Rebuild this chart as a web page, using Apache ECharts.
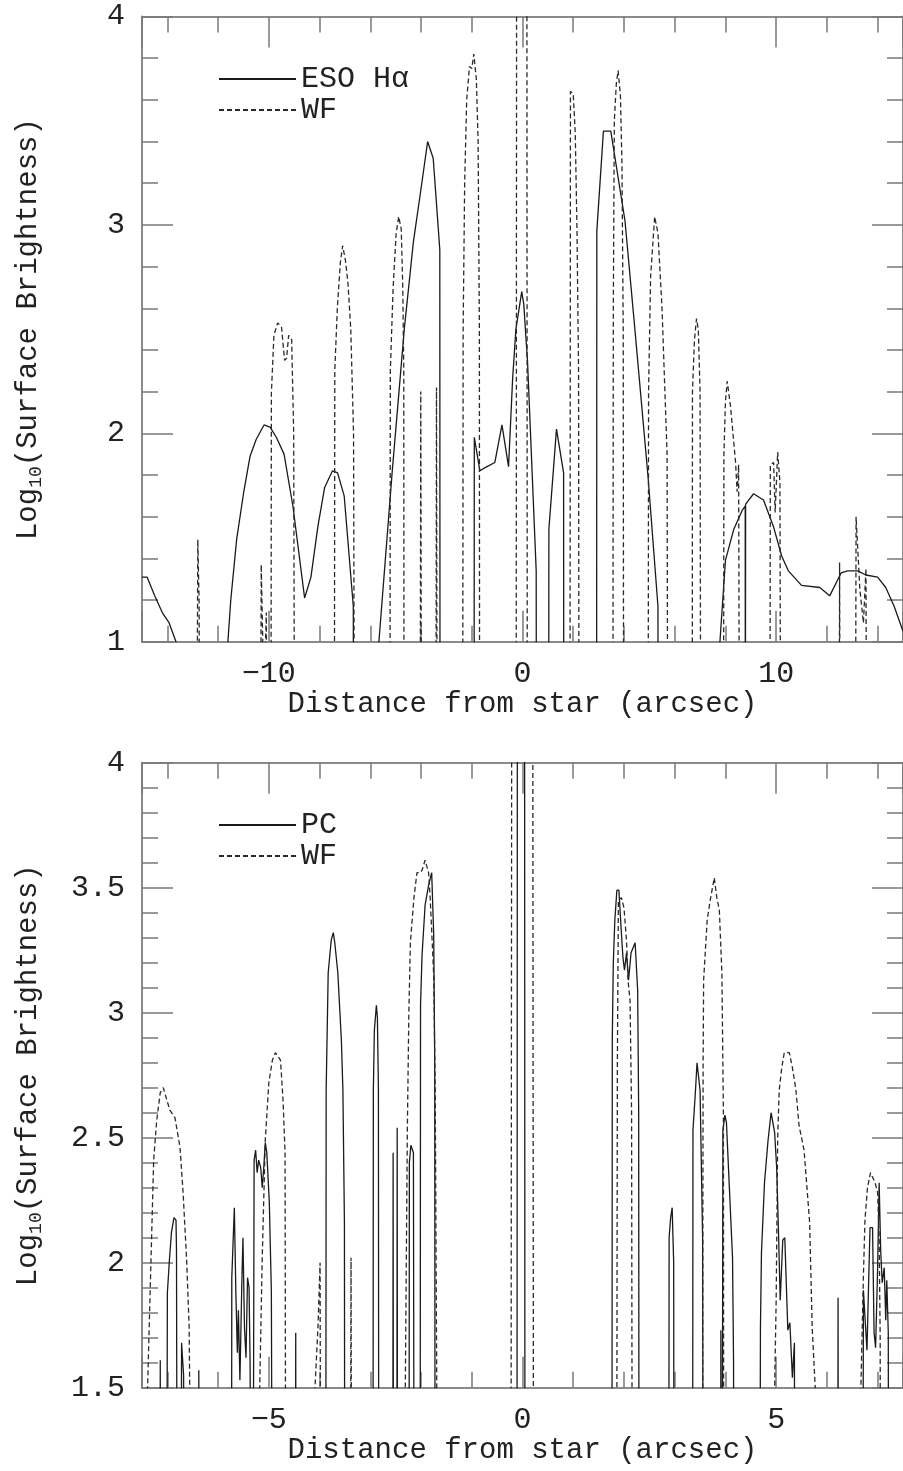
<!DOCTYPE html>
<html><head><meta charset="utf-8">
<script src="https://cdn.jsdelivr.net/npm/echarts@6/dist/echarts.min.js"></script>
<style>html,body{margin:0;padding:0;background:#fff}#c{width:903px;height:1471px}</style>
</head><body><div id="c"></div>
<script>
// ---------- axis ranges / ticks ----------
const topXRange = [-15, 15];
const topYRange = [1, 4];
const topYInterval = 1;
const botXRange = [-7.5, 7.5];
const botYRange = [1.5, 4];
const botYInterval = 0.5;

// ---------- legend names ----------
const topSeriesNames = ['ESO Hα', 'WF'];
const botSeriesNames = ['PC', 'WF'];

// ---------- top panel: ESO H-alpha (solid) ----------
const esoHa = [
[-15,1.31],[-14.8,1.31],[-14.5,1.22],[-14.2,1.14],[-13.93,1.09],[-13.66,1.0],[-13.5,0.9],[-11.7,0.85],
[-11.5,1.2],[-11.27,1.49],[-11.0,1.71],[-10.74,1.89],[-10.5,1.97],[-10.19,2.04],[-9.95,2.03],[-9.7,1.98],
[-9.4,1.90],[-9.05,1.65],[-8.59,1.21],[-8.34,1.31],[-8.07,1.55],[-7.8,1.74],[-7.49,1.82],[-7.29,1.81],
[-7.03,1.70],[-6.67,1.17],[-6.66,0],[-5.8,0],[-5.68,0.97],[-5.14,1.81],[-4.66,2.50],[-4.30,2.92],
[-4.04,3.14],[-3.74,3.40],[-3.52,3.32],[-3.26,2.88],[-3.25,0],[-1.91,0],[-1.90,1.98],[-1.68,1.82],
[-1.4,1.84],[-1.09,1.86],[-0.81,2.04],[-0.55,1.84],[-0.39,2.26],[-0.26,2.5],[-0.03,2.68],[0.05,2.62],
[0.2,2.34],[0.35,1.9],[0.54,1.34],[0.55,0],[1.03,0],[1.04,1.54],[1.34,2.02],[1.62,1.81],[1.63,0],
[2.92,0],[2.93,2.97],[3.19,3.45],[3.48,3.45],[4.04,3.02],[4.43,2.5],[4.95,1.79],[5.34,1.17],[5.35,0],
[7.7,0.85],[8.0,1.39],[8.33,1.54],[8.66,1.63],[8.78,1.65],[8.785,0],[8.795,1.66],[9.11,1.71],[9.5,1.68],
[9.9,1.55],[10.22,1.41],[10.48,1.34],[11.0,1.27],[11.72,1.26],[12.11,1.22],[12.56,1.33],[12.82,1.34],
[13.21,1.34],[13.54,1.32],[14.0,1.31],[14.32,1.26],[14.65,1.17],[15,1.05]
];

// ---------- top panel: WF (dashed) ----------
const wfTop = [
[-15,0],[-12.85,0],[-12.8,1.49],[-12.75,1.2],[-12.72,0],
[-10.33,0],[-10.3,1.37],[-10.24,1.0],[-10.15,0.9],[-10.1,1.14],[-10.05,0],
[-9.92,0],[-9.9,2.19],[-9.8,2.47],[-9.65,2.53],[-9.5,2.51],[-9.38,2.35],[-9.3,2.36],[-9.22,2.47],[-9.1,2.45],[-9.02,2.0],[-8.98,0],
[-7.42,0],[-7.4,2.3],[-7.3,2.6],[-7.18,2.82],[-7.09,2.90],[-6.98,2.83],[-6.88,2.72],[-6.77,2.5],[-6.66,2.0],[-6.62,0],
[-5.23,0],[-5.21,2.3],[-5.1,2.7],[-4.98,2.96],[-4.88,3.04],[-4.78,2.98],[-4.72,2.7],[-4.68,2.3],[-4.67,0],
[-4.04,0],[-4.01,2.2],[-3.98,0],
[-3.42,0],[-3.39,2.22],[-3.36,0],
[-2.36,0],[-2.34,2.5],[-2.28,3.2],[-2.2,3.6],[-2.09,3.76],[-2.0,3.75],[-1.92,3.82],[-1.82,3.7],[-1.75,3.4],[-1.7,2.5],[-1.69,0],
[-0.25,0],[-0.23,5],[0.17,5],[0.19,0],
[1.87,0],[1.89,3.64],[2.0,3.63],[2.08,3.44],[2.15,2.96],[2.21,2.3],[2.23,0],
[3.56,0],[3.58,2.6],[3.62,3.5],[3.7,3.68],[3.77,3.74],[3.86,3.62],[3.92,3.3],[3.97,2.5],[3.99,0],
[4.95,0],[4.97,2.2],[5.05,2.75],[5.21,3.04],[5.34,2.96],[5.5,2.6],[5.7,1.9],[5.73,0],
[6.69,0],[6.7,2.2],[6.78,2.45],[6.86,2.55],[6.93,2.5],[7.0,2.2],[7.03,0],
[7.92,0],[7.94,1.9],[8.0,2.15],[8.07,2.25],[8.2,2.13],[8.4,1.86],[8.46,1.72],[8.52,1.85],[8.56,0],
[9.75,0],[9.77,1.85],[9.9,1.86],[9.96,1.62],[10.06,1.91],[10.15,1.76],[10.18,0],
[12.48,0],[12.5,1.38],[12.53,0],
[13.12,0],[13.15,1.6],[13.3,1.25],[13.44,1.09],[13.54,1.35],[13.57,0],[15,0]
];

// ---------- bottom panel: PC (solid) ----------
const pc = [
[-7.5,0],[-7.15,0],[-7.14,1.61],[-7.13,0],
[-7.02,0],[-7.0,1.88],[-6.96,2.01],[-6.92,2.12],[-6.87,2.18],[-6.83,2.17],[-6.82,2.05],[-6.8,0],
[-6.74,0],[-6.72,1.68],[-6.68,1.55],[-6.66,0],
[-6.39,0],[-6.38,1.57],[-6.37,0],
[-5.74,0],[-5.73,1.94],[-5.68,2.22],[-5.65,1.88],[-5.62,1.64],[-5.6,1.81],[-5.57,1.53],[-5.53,1.94],[-5.51,2.1],[-5.48,1.74],[-5.45,1.62],[-5.42,1.94],[-5.39,1.9],[-5.37,1.61],[-5.32,0],
[-5.3,0],[-5.29,2.41],[-5.26,2.45],[-5.23,2.36],[-5.2,2.41],[-5.16,2.38],[-5.13,2.3],[-5.1,2.38],[-5.07,2.48],[-5.04,2.44],[-4.99,2.24],[-4.95,1.88],[-4.92,0],
[-4.48,0],[-4.47,1.72],[-4.46,0],
[-3.88,0],[-3.87,2.69],[-3.83,3.16],[-3.77,3.29],[-3.73,3.32],[-3.7,3.28],[-3.64,3.16],[-3.57,2.89],[-3.54,2.69],[-3.51,2.16],[-3.5,0],
[-2.95,0],[-2.94,2.69],[-2.92,2.93],[-2.88,3.03],[-2.86,2.98],[-2.84,2.69],[-2.83,0],
[-2.56,0],[-2.55,2.44],[-2.54,0],
[-2.48,0],[-2.47,2.54],[-2.46,0],
[-2.24,0],[-2.23,2.4],[-2.2,2.47],[-2.15,2.44],[-2.13,0],
[-2.02,0],[-2.01,3.03],[-1.98,3.23],[-1.92,3.43],[-1.85,3.51],[-1.79,3.56],[-1.75,3.31],[-1.73,2.8],[-1.72,0],
[-0.11,0],[-0.1,5],[0.04,5],[0.05,0],
[1.76,0],[1.77,2.9],[1.79,3.2],[1.82,3.37],[1.86,3.49],[1.9,3.49],[1.94,3.35],[1.98,3.22],[2.01,3.17],[2.05,3.24],[2.09,3.13],[2.14,3.24],[2.22,3.28],[2.27,3.09],[2.29,2.6],[2.3,0],
[2.88,0],[2.89,2.1],[2.92,2.18],[2.95,2.22],[2.98,2.0],[2.99,0],
[3.35,0],[3.36,2.53],[3.41,2.69],[3.44,2.8],[3.5,2.69],[3.55,2.1],[3.57,0],
[3.9,0],[3.91,1.73],[3.93,0],
[3.94,0],[3.95,2.53],[3.99,2.59],[4.02,2.56],[4.08,2.29],[4.14,2.02],[4.16,1.6],[4.17,0],
[4.67,0],[4.69,1.74],[4.71,2.04],[4.77,2.32],[4.84,2.49],[4.9,2.6],[4.97,2.52],[5.01,2.38],[5.05,2.09],[5.08,1.85],[5.13,2.09],[5.17,2.1],[5.23,1.73],[5.27,1.76],[5.32,1.54],[5.36,1.68],[5.37,0],
[6.21,0],[6.22,1.86],[6.23,0],
[6.7,0],[6.72,1.89],[6.76,1.75],[6.79,1.65],[6.82,1.9],[6.85,2.14],[6.9,2.14],[6.93,1.72],[6.96,1.66],[7.0,1.98],[7.03,2.32],[7.06,2.05],[7.09,1.92],[7.13,1.98],[7.16,1.77],[7.18,1.93],[7.21,1.72],[7.22,0],[7.5,0]
];

// ---------- bottom panel: WF (dashed) ----------
const wfBot = [
[-7.5,0],[-7.41,0],[-7.39,1.5],[-7.34,1.88],[-7.27,2.41],[-7.21,2.57],[-7.14,2.68],[-7.08,2.70],[-7.01,2.65],[-6.95,2.61],[-6.85,2.58],[-6.75,2.46],[-6.69,2.28],[-6.62,2.01],[-6.57,1.74],[-6.56,1.5],[-6.55,0],
[-5.2,0],[-5.18,1.5],[-5.13,2.02],[-5.07,2.49],[-5.0,2.72],[-4.93,2.81],[-4.87,2.84],[-4.77,2.81],[-4.72,2.65],[-4.68,2.44],[-4.66,0],
[-4.12,0],[-4.09,1.5],[-4.03,1.75],[-3.99,2.0],[-3.97,0],
[-3.4,0],[-3.38,2.02],[-3.36,0],
[-2.33,0],[-2.31,1.5],[-2.27,2.53],[-2.24,3.0],[-2.21,3.28],[-2.14,3.46],[-2.08,3.56],[-2.01,3.56],[-1.98,3.57],[-1.92,3.61],[-1.85,3.56],[-1.82,3.46],[-1.75,3.15],[-1.72,2.68],[-1.69,1.5],[-1.68,0],
[-0.23,0],[-0.21,5],[0.2,5],[0.22,0],
[1.85,0],[1.87,2.8],[1.89,3.45],[1.95,3.46],[2.0,3.42],[2.05,3.29],[2.08,3.13],[2.12,3.05],[2.15,2.6],[2.17,0],
[3.54,0],[3.56,2.8],[3.57,3.13],[3.64,3.37],[3.7,3.45],[3.78,3.54],[3.83,3.46],[3.88,3.41],[3.93,3.16],[3.96,2.6],[3.97,0],
[4.95,0],[4.97,1.5],[5.0,1.85],[5.03,2.5],[5.06,2.69],[5.11,2.78],[5.16,2.84],[5.26,2.84],[5.32,2.78],[5.39,2.69],[5.45,2.55],[5.55,2.45],[5.66,2.16],[5.71,1.74],[5.77,1.5],[5.78,0],
[6.65,0],[6.67,1.5],[6.72,1.95],[6.75,2.17],[6.8,2.3],[6.86,2.36],[6.95,2.32],[7.0,2.28],[7.03,2.1],[7.05,1.7],[7.06,0],[7.5,0]
];

// ---------- styling ----------
const FONT = 'Liberation Mono';
const TXT = '#222';
const frame = {color: '#8a8a8a', width: 2};
const tickStyle = {color: '#7a7a7a', width: 1.5};
const minus = v => (v < 0 ? '\u2212' + Math.abs(v) : String(v));

function xAxisPair(grid, rng) {
  const base = {
    type: 'value', gridIndex: grid, min: rng[0], max: rng[1], splitNumber: 3,
    axisLine: {show: true, onZero: false, lineStyle: frame},
    axisTick: {show: true, inside: true, length: 31, lineStyle: tickStyle},
    minorTick: {show: true, splitNumber: 5, length: 16, lineStyle: tickStyle},
    splitLine: {show: false}, minorSplitLine: {show: false}
  };
  return [
    Object.assign({}, base, {
      position: 'bottom',
      axisLabel: {show: true, margin: 17, fontFamily: FONT, fontSize: 30, color: TXT,
        showMinLabel: false, showMaxLabel: false, formatter: minus},
      name: 'Distance from star (arcsec)', nameLocation: 'middle', nameGap: 47,
      nameTextStyle: {fontFamily: FONT, fontSize: 29, color: TXT}
    }),
    Object.assign({}, base, {position: 'top', axisLabel: {show: false}})
  ];
}
function yAxisPair(grid, rng, interval) {
  const base = {
    type: 'value', gridIndex: grid, min: rng[0], max: rng[1], interval: interval,
    axisLine: {show: true, onZero: false, lineStyle: frame},
    axisTick: {show: true, inside: true, length: 31, lineStyle: tickStyle},
    minorTick: {show: true, splitNumber: 5, length: 16, lineStyle: tickStyle},
    splitLine: {show: false}, minorSplitLine: {show: false}
  };
  return [
    Object.assign({}, base, {
      position: 'left',
      axisLabel: {show: true, margin: 17, fontFamily: FONT, fontSize: 30, color: TXT},
      name: '{a|Log}{s|10}{a|(Surface Brightness)}', nameLocation: 'middle', nameGap: 97, nameRotate: 90,
      nameTextStyle: {color: TXT, rich: {
        a: {fontFamily: FONT, fontSize: 29, lineHeight: 34, verticalAlign: 'middle', color: TXT},
        s: {fontFamily: FONT, fontSize: 18, lineHeight: 20, verticalAlign: 'bottom', color: TXT}
      }}
    }),
    Object.assign({}, base, {position: 'right', axisLabel: {show: false}})
  ];
}
function lineSeries(name, data, xi, yi, dashed) {
  return {
    type: 'line', name: name, data: data, xAxisIndex: xi, yAxisIndex: yi,
    symbol: 'none', showSymbol: false, clip: true, silent: true, animation: false,
    lineStyle: {color: dashed ? '#2a2a2a' : '#1a1a1a', width: 1.3, type: dashed ? [5, 3] : 'solid'},
    itemStyle: {color: dashed ? '#2a2a2a' : '#1a1a1a'}
  };
}
function legendFor(names, top) {
  return {
    data: names, orient: 'vertical', left: 218, top: top, padding: 0, itemGap: 0,
    itemWidth: 77, itemHeight: 14, selectedMode: false,
    itemStyle: {opacity: 0},
    textStyle: {fontFamily: FONT, fontSize: 30, lineHeight: 31, color: TXT}
  };
}

const option = {
  backgroundColor: '#fff',
  animation: false,
  grid: [
    {left: 142, top: 16.5, width: 768.7, height: 625.2},
    {left: 142, top: 762.7, width: 768.7, height: 625}
  ],
  xAxis: [].concat(xAxisPair(0, topXRange), xAxisPair(1, botXRange)),
  yAxis: [].concat(yAxisPair(0, topYRange, topYInterval), yAxisPair(1, botYRange, botYInterval)),
  legend: [legendFor(topSeriesNames, 63.5), legendFor(botSeriesNames, 809.5)],
  series: [
    lineSeries(topSeriesNames[0], esoHa, 0, 0, false),
    lineSeries(topSeriesNames[1], wfTop, 0, 0, true),
    lineSeries(botSeriesNames[0], pc, 2, 2, false),
    lineSeries(botSeriesNames[1], wfBot, 2, 2, true)
  ]
};
const chart = echarts.init(document.getElementById('c'), null, {renderer: 'canvas'});
chart.setOption(option);
</script>
</body></html>
